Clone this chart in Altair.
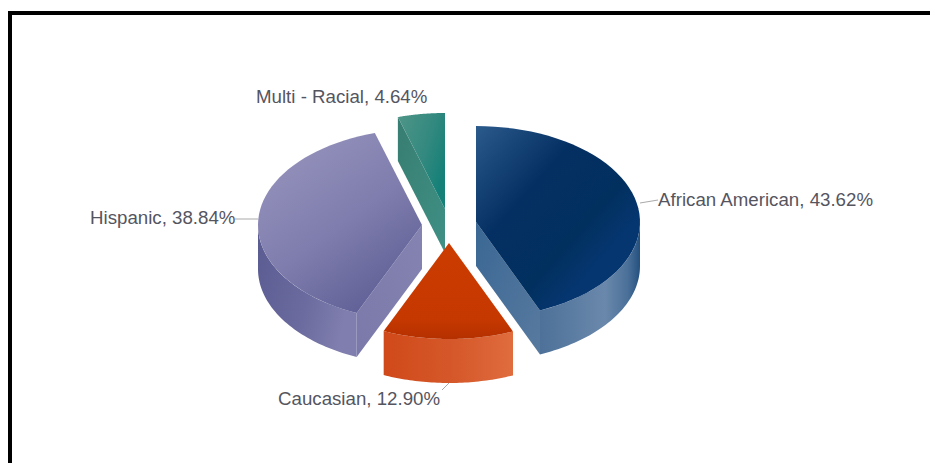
import math
import altair as alt

# Share of each group, clockwise from twelve o'clock
categories = ["African American", "Caucasian", "Hispanic", "Multi - Racial"]
shares = [43.62, 12.90, 38.84, 4.64]

# Exploded centre of each slice, in pixels
centres = {
    "African American": (476, 222),
    "Caucasian": (449, 243),
    "Multi - Racial": (445, 209),
    "Hispanic": (422, 225),
}
RX, RY, DEPTH = 164, 96, 44

# Label anchors: left edge and vertical middle of each text
label_pos = {
    "African American": (658, 200),
    "Caucasian": (278, 399),
    "Multi - Racial": (256, 97),
    "Hispanic": (90, 218),
}
leaders = [(235, 219, 258, 219), (640, 203, 658, 200), (442, 390, 449, 383)]


def gradient(x1, y1, x2, y2, *stops):
    return alt.LinearGradient(
        gradient="linear", x1=x1, y1=y1, x2=x2, y2=y2,
        stops=[alt.GradientStop(offset=o, color=c) for o, c in stops],
    )


def rim(name, a, b, dy=0, n=48):
    cx, cy = centres[name]
    return [
        [cx + RX * math.sin(a + (b - a) * i / n), cy + dy - RY * math.cos(a + (b - a) * i / n)]
        for i in range(n + 1)
    ]


def polygon(points):
    ring = points + [points[0]]
    return alt.Data(values=[{"type": "Feature", "properties": {},
                             "geometry": {"type": "Polygon", "coordinates": [ring]}}])


def face(points, fill):
    return (
        alt.Chart(polygon(points))
        .mark_geoshape(fill=fill, strokeWidth=0)
        .project(type="identity", scale=1, translate=[0, 0])
    )


# Slice angles from the cumulative shares
angles = {}
start = 0.0
for name, share in zip(categories, shares):
    end = start + share / sum(shares) * 2 * math.pi
    angles[name] = (start, end)
    start = end


def top_face(name):
    a, b = angles[name]
    return [list(centres[name])] + rim(name, a, b)


def outer_wall(name, a, b):
    return rim(name, a, b) + rim(name, b, a, DEPTH)


def cut_wall(name, angle):
    cx, cy = centres[name]
    edge = rim(name, angle, angle, n=1)[0]
    return [[cx, cy], edge, [edge[0], edge[1] + DEPTH], [cx, cy + DEPTH]]


aa = angles["African American"]
ca = angles["Caucasian"]
mu = angles["Multi - Racial"]
hi = angles["Hispanic"]

layers = [
    # Hispanic
    face(outer_wall("Hispanic", hi[0], 1.5 * math.pi),
         gradient(0, 0, 1, 0.3, (0, "#5a5b91"), (0.6, "#6b6b9f"), (1, "#7f7eae"))),
    face(cut_wall("Hispanic", hi[0]), gradient(0, 1, 1, 0, (0, "#7a79a9"), (1, "#8483b1"))),
    face(top_face("Hispanic"), gradient(0.2, 0, 0.85, 1, (0, "#9693bd"), (0.5, "#7f7dad"), (1, "#5a5a92"))),
    # Multi-racial
    face(cut_wall("Multi - Racial", mu[0]), gradient(0, 0, 1, 1, (0, "#387d71"), (1, "#3f9085"))),
    face(top_face("Multi - Racial"), gradient(0, 0, 1, 0.6, (0, "#4f9588"), (0.6, "#33897f"), (1, "#148078"))),
    # African American
    face(cut_wall("African American", aa[1]), gradient(0, 0, 1, 1, (0, "#3a6794"), (1, "#587a9f"))),
    face(outer_wall("African American", 0.5 * math.pi, aa[1]),
         gradient(1, 0, 0, 0, (0, "#24507f"), (0.12, "#4a7099"), (0.35, "#6a88ab"), (1, "#4d7199"))),
    face(top_face("African American"),
         gradient(0, 0, 0.75, 0.75, (0, "#2b5a8c"), (0.45, "#042f62"), (0.8, "#01305f"), (1, "#063670"))),
    # Caucasian
    face(outer_wall("Caucasian", ca[0], ca[1]),
         gradient(0, 0, 1, 0, (0, "#d0491a"), (0.6, "#d65a2c"), (1, "#e06c3e"))),
    face(top_face("Caucasian"), gradient(0, 0, 0, 1, (0, "#cc3c00"), (0.8, "#c53800"), (1, "#b53000"))),
]

for x1, y1, x2, y2 in leaders:
    layers.append(
        alt.Chart(alt.Data(values=[{}]))
        .mark_rule(color="#a9a9a9", strokeWidth=1)
        .encode(x=alt.value(x1), x2=alt.value(x2), y=alt.value(y1), y2=alt.value(y2))
    )

for name, share in zip(categories, shares):
    x, y = label_pos[name]
    layers.append(
        alt.Chart(alt.Data(values=[{"label": f"{name}, {share:.2f}%"}]))
        .mark_text(align="left", baseline="middle", font="Liberation Sans", fontSize=18.7, color="#55555f")
        .encode(x=alt.value(x), y=alt.value(y), text="label:N")
    )

# Heavy rule along the top and left edges
layers.append(
    alt.Chart(alt.Data(values=[{}]))
    .mark_rule(color="#000000", strokeWidth=4)
    .encode(x=alt.value(8), x2=alt.value(930), y=alt.value(13))
)
layers.append(
    alt.Chart(alt.Data(values=[{}]))
    .mark_rule(color="#000000", strokeWidth=4)
    .encode(x=alt.value(10), y=alt.value(11), y2=alt.value(463))
)

chart = (
    alt.layer(*layers)
    .properties(width=930, height=463, padding=0, autosize=alt.AutoSizeParams(type="none"), background="#ffffff")
    .configure_view(strokeWidth=0)
)

chart.save("out.html", embed_options={"renderer": "svg", "actions": False})
